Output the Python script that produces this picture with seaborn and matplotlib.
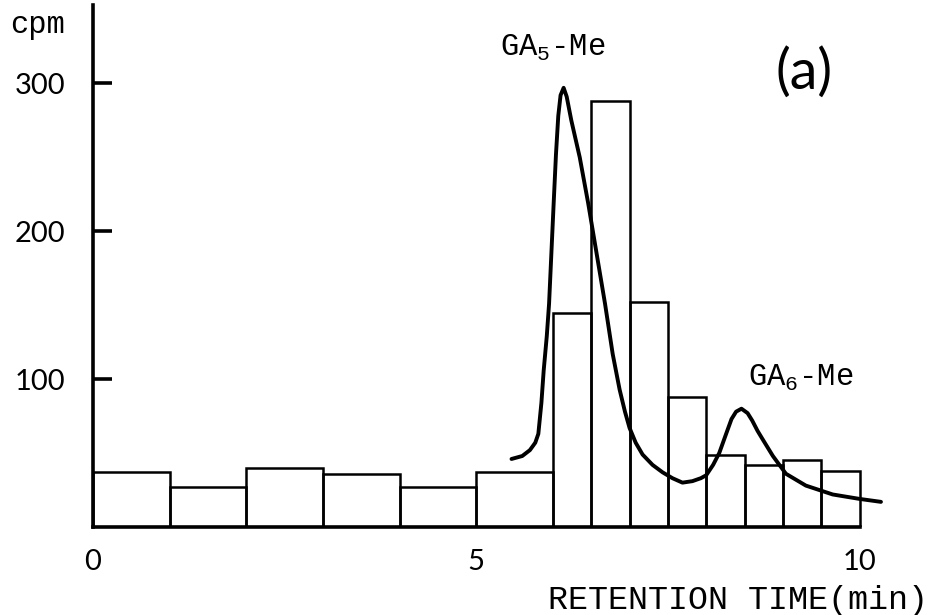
import numpy as np
import pandas as pd
import matplotlib
matplotlib.use('Agg')
import matplotlib.pyplot as plt
import seaborn as sns

# radioactivity per fraction (cpm) over retention time bins (min)
bin_edges = [0, 1, 2, 3, 4, 5, 6, 6.5, 7, 7.5, 8, 8.5, 9, 9.5, 10]
cpm = [37, 27, 40, 36, 27, 37, 145, 288, 152, 88, 49, 42, 45, 38]

# GC trace drawn over the histogram
trace_t = [5.46, 5.6, 5.70, 5.77, 5.81, 5.85, 5.88, 5.92, 5.95, 5.98, 6.01,
           6.04, 6.07, 6.10, 6.14, 6.18, 6.24, 6.35, 6.46, 6.57, 6.68, 6.78,
           6.87, 6.94, 7.0, 7.08, 7.17, 7.3, 7.43, 7.56, 7.69, 7.82, 7.93,
           8.0, 8.09, 8.17, 8.26, 8.33, 8.39, 8.46, 8.54, 8.6, 8.67, 8.74,
           8.87, 9.04, 9.3, 9.65, 10.0, 10.28]
trace_cpm = [46, 48, 52, 57, 63, 84, 106, 129, 151, 185, 219,
             252, 278, 292, 297, 291, 275, 250, 219, 185, 151, 117,
             93, 78, 67, 57, 49, 42, 37, 33, 30, 31, 33,
             35, 42, 50, 63, 73, 78, 80, 77, 72, 65, 59,
             48, 36, 28, 22, 19, 17]

x_ticks = [0, 5, 10]
y_ticks = [100, 200, 300]

sns.set_style('white')
plt.rcParams['font.family'] = ['Lato', 'DejaVu Sans']
plt.rcParams['mathtext.fontset'] = 'custom'
plt.rcParams['mathtext.rm'] = 'Liberation Mono'
plt.rcParams['text.color'] = 'black'
plt.rcParams['xtick.color'] = 'black'
plt.rcParams['ytick.color'] = 'black'

fig = plt.figure(figsize=(9.31, 6.15), dpi=100)
ax = fig.add_axes([93 / 931, 88 / 615, 801 / 931, 522 / 615])

mids = [(a + b) / 2 for a, b in zip(bin_edges[:-1], bin_edges[1:])]
df = pd.DataFrame({'t': mids, 'cpm': cpm})
sns.histplot(data=df, x='t', weights='cpm', bins=bin_edges, fill=False,
             color='black', linewidth=1.8, ax=ax)

tr = pd.DataFrame({'t': trace_t, 'cpm': trace_cpm})
sns.lineplot(data=tr, x='t', y='cpm', color='black', linewidth=2.8,
             solid_joinstyle='round', solid_capstyle='round', ax=ax)

ax.set_xlim(0, 10.45)
ax.set_ylim(0, 353)
ax.set_xlabel('')
ax.set_ylabel('')
sns.despine(ax=ax)
ax.spines['bottom'].set_bounds(0, 10)
for s in ['left', 'bottom']:
    ax.spines[s].set_linewidth(2.6)
    ax.spines[s].set_color('black')

ax.set_xticks(x_ticks)
ax.set_yticks(y_ticks)
ax.tick_params(axis='y', direction='in', length=14, width=2.6,
               labelsize=21, pad=20, left=True)
ax.tick_params(axis='x', length=0, labelsize=21, pad=16)

mono = 'Liberation Mono'
ax.text(5.31, 324, r'GA$_\mathrm{5}$-Me', family=mono, fontsize=22,
        ha='left', va='center')
ax.text(8.54, 101, r'GA$_\mathrm{6}$-Me', family=mono, fontsize=22,
        ha='left', va='center')
ax.text(9.28, 307, '(a)', fontsize=40, ha='center', va='center')

fig.text(10 / 931, 1 - 25 / 615, 'cpm', family=mono, fontsize=22,
         ha='left', va='center')
fig.text(928 / 931, 1 - 600 / 615, 'RETENTION TIME(min)', family=mono,
         fontsize=24, ha='right', va='center')

fig.savefig('out.png', dpi=100)
